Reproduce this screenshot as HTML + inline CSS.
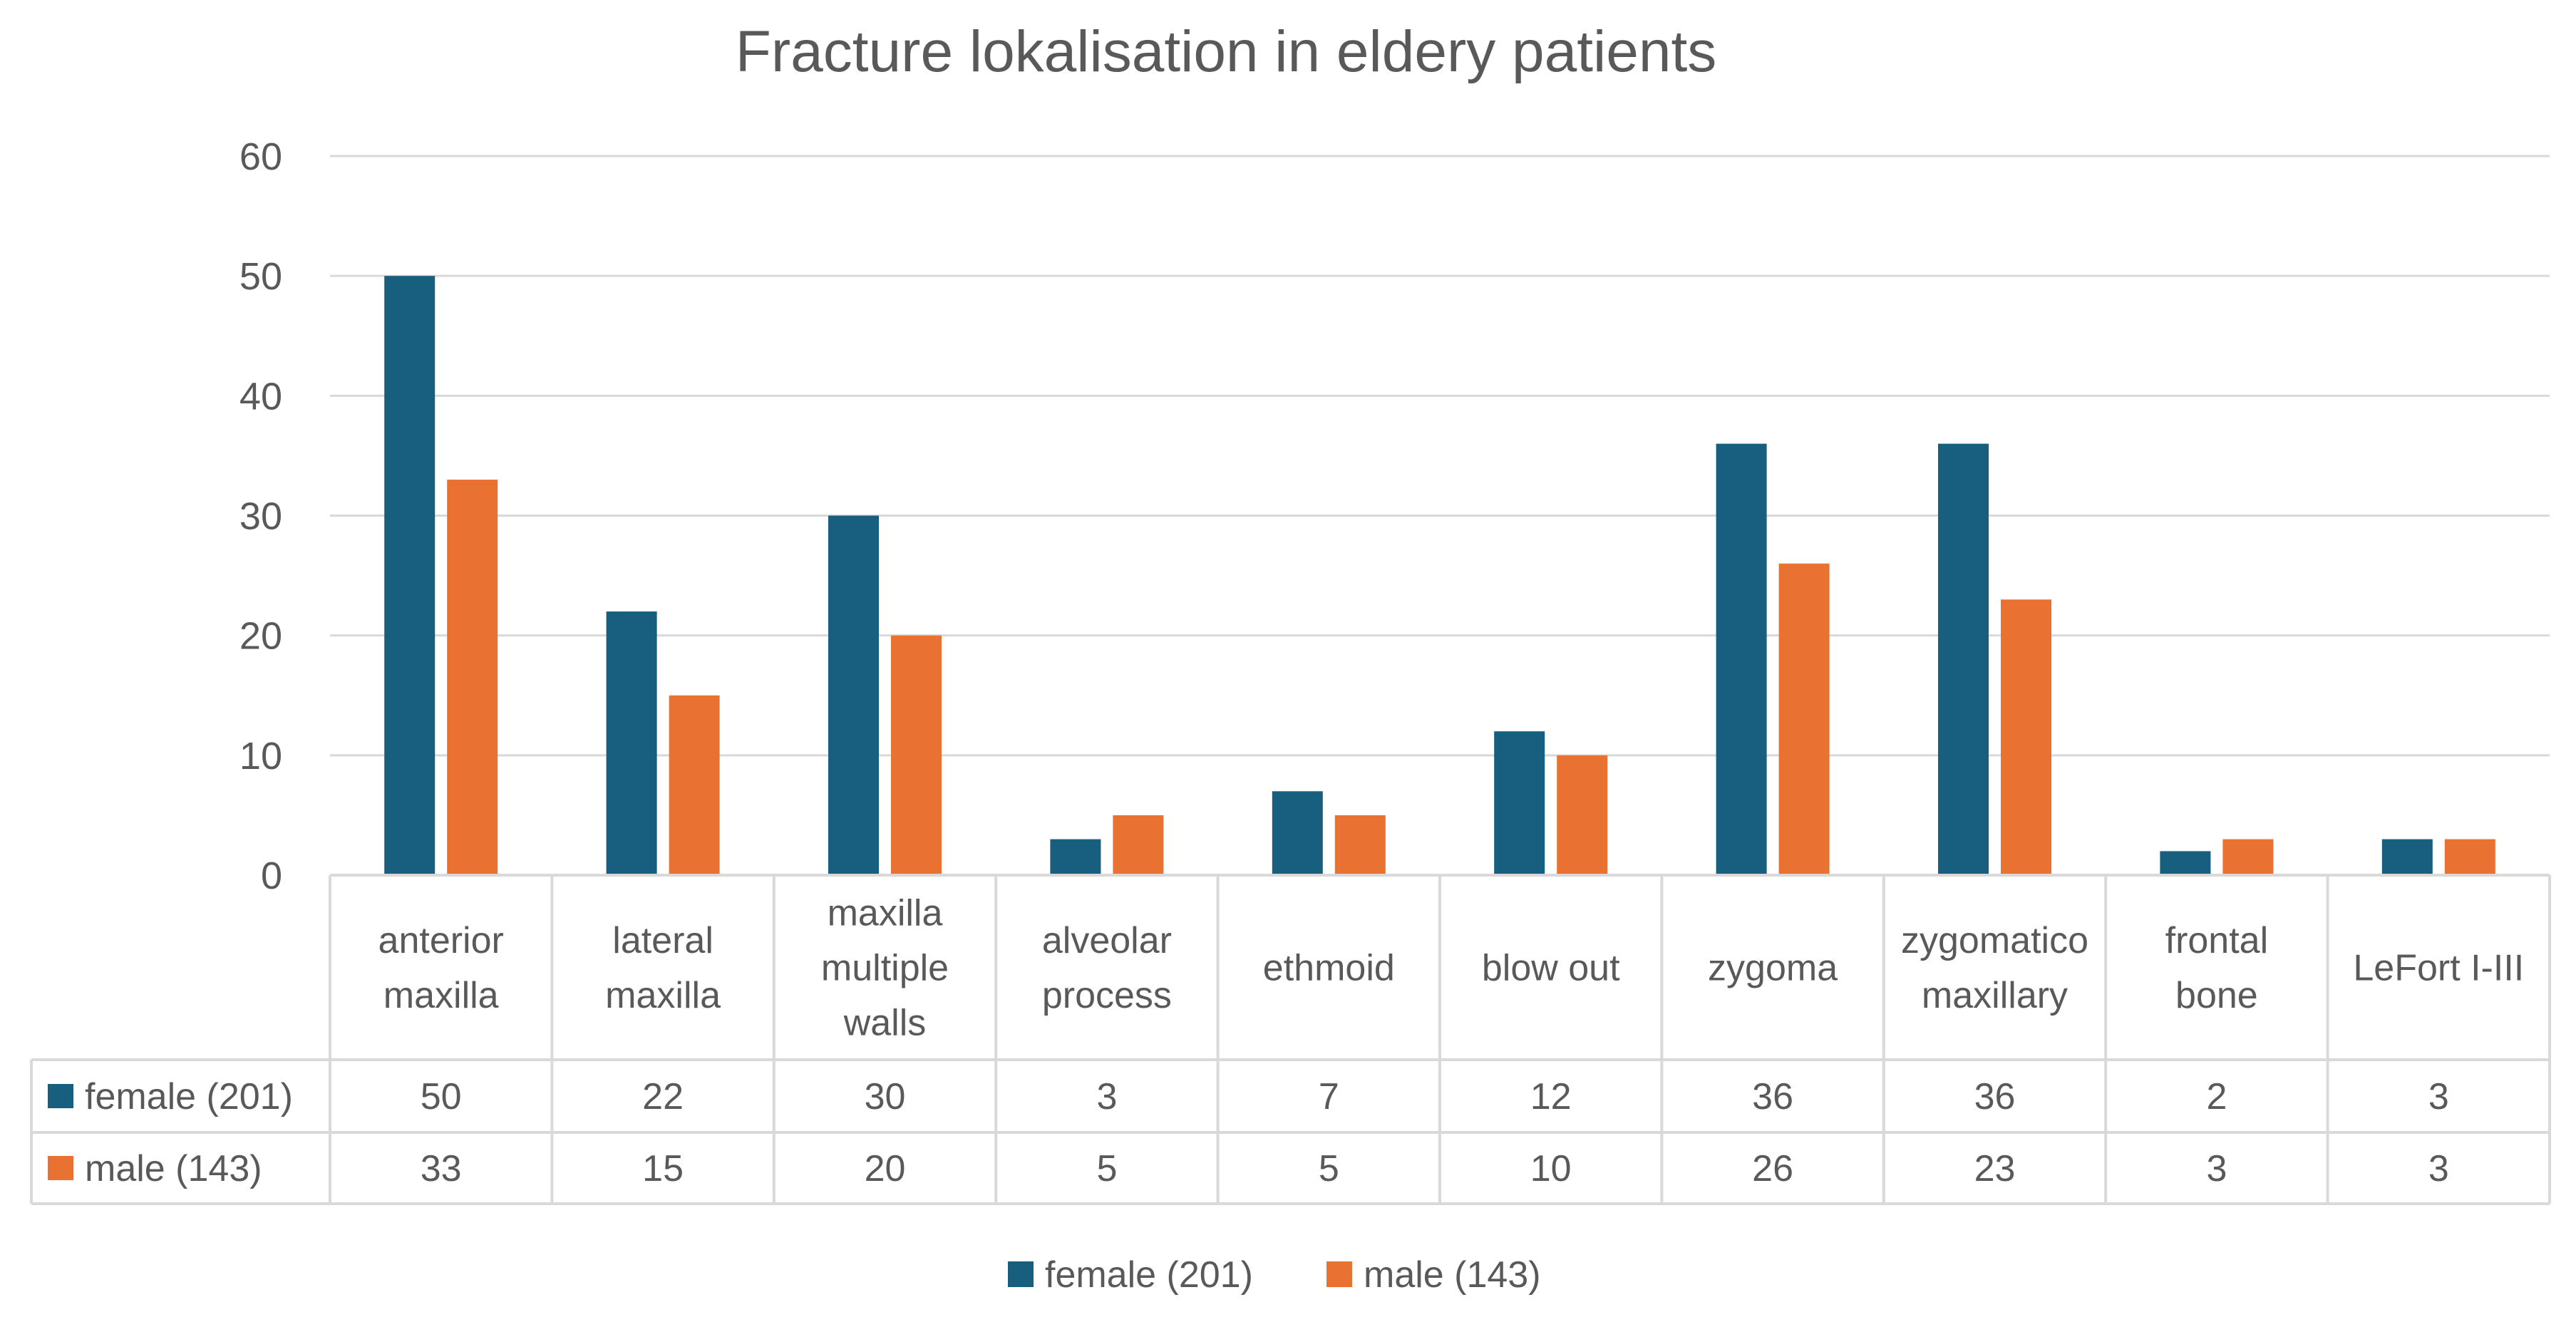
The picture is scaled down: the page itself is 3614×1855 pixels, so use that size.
<!DOCTYPE html>
<html><head><meta charset="utf-8"><style>
html,body{margin:0;padding:0;background:#fff;}
svg{display:block;font-family:"Liberation Sans",Arial,sans-serif;}
</style></head><body>
<svg id="chart" width="3614" height="1855" viewBox="0 0 3614 1855" xmlns="http://www.w3.org/2000/svg">
<rect width="3614" height="1855" fill="#fff"/>
<text x="1720" y="100" font-size="82" fill="#595959" text-anchor="middle">Fracture lokalisation in eldery patients</text>
<g id="grid"></g><g id="bars"></g><g id="table"></g>
<g>
<rect x="1414" y="1770" width="36" height="36" fill="#175e7f"/>
<text x="1466" y="1806" font-size="52" fill="#595959">female (201)</text>
<rect x="1861" y="1770" width="36" height="36" fill="#e97132"/>
<text x="1913" y="1806" font-size="52" fill="#595959">male (143)</text>
</g>
</svg>
<script>
const categories = [["anterior","maxilla"],["lateral","maxilla"],["maxilla","multiple","walls"],["alveolar","process"],["ethmoid"],["blow out"],["zygoma"],["zygomatico","maxillary"],["frontal","bone"],["LeFort I-III"]];
const female = [50,22,30,3,7,12,36,36,2,3];
const male = [33,15,20,5,5,10,26,23,3,3];
const yTicks = [0,10,20,30,40,50,60];
const seriesNames = ["female (201)","male (143)"];

const NS="http://www.w3.org/2000/svg";
const X0=463, X1=3577, Y0=1228, Y60=219, TB=[1228,1487,1589,1689], TL=44;
const colW=(X1-X0)/categories.length;
const y=v=>Y0-(v/60)*(Y0-Y60);
const cx=i=>X0+colW*(i+0.5);
function mk(tag,attrs,parent,txt){const e=document.createElementNS(NS,tag);for(const k in attrs)e.setAttribute(k,attrs[k]);if(txt!==undefined)e.textContent=txt;parent.appendChild(e);return e;}
const grid=document.getElementById('grid'),bars=document.getElementById('bars'),tbl=document.getElementById('table');
yTicks.forEach(t=>{
  if(t>0){const l=mk('line',{x1:X0,x2:X1,y1:y(t),y2:y(t),stroke:'#d9d9d9','stroke-width':3},grid);
  
  }
  const tx=mk('text',{x:396,y:y(t)+19,'font-size':54,fill:'#595959','text-anchor':'end'},grid,String(t));
  
  
});
const BW=71,OFF=44;
categories.forEach((c,i)=>{
  const bf=mk('rect',{x:cx(i)-OFF-BW/2,y:y(female[i]),width:BW,height:Y0-y(female[i]),fill:'#175e7f'},bars);
  
  
  const bm=mk('rect',{x:cx(i)+OFF-BW/2,y:y(male[i]),width:BW,height:Y0-y(male[i]),fill:'#e97132'},bars);
  
  
  const lh=77, cy=(TB[0]+TB[1])/2, start=cy-(c.length-1)*lh/2;
  c.forEach((line,j)=>{
    const t=mk('text',{x:cx(i),y:start+j*lh+18,'font-size':52,fill:'#595959','text-anchor':'middle'},tbl,line);
    
    
  });
  const vf=mk('text',{x:cx(i),y:(TB[1]+TB[2])/2+18,'font-size':52,fill:'#595959','text-anchor':'middle'},tbl,String(female[i]));
  
  
  const vm=mk('text',{x:cx(i),y:(TB[2]+TB[3])/2+18,'font-size':52,fill:'#595959','text-anchor':'middle'},tbl,String(male[i]));
  
  
});
const st={stroke:'#d9d9d9','stroke-width':4};
mk('line',Object.assign({x1:X0,x2:X1,y1:TB[0],y2:TB[0]},st),tbl);
[1,2,3].forEach(k=>mk('line',Object.assign({x1:TL,x2:X1,y1:TB[k],y2:TB[k]},st),tbl));
for(let i=0;i<=categories.length;i++){mk('line',Object.assign({x1:X0+colW*i,x2:X0+colW*i,y1:TB[0],y2:TB[3]},st),tbl);}
mk('line',Object.assign({x1:TL,x2:TL,y1:TB[1],y2:TB[3]},st),tbl);
const cols=['#175e7f','#e97132'];
seriesNames.forEach((n,k)=>{
  const cyy=(TB[k+1]+TB[k+2])/2;
  const r=mk('rect',{x:67,y:cyy-17,width:36,height:34,fill:cols[k]},tbl);
  
  
  const t=mk('text',{x:119,y:cyy+18,'font-size':52,fill:'#595959'},tbl,n);
  
  
});
</script>
</body></html>
